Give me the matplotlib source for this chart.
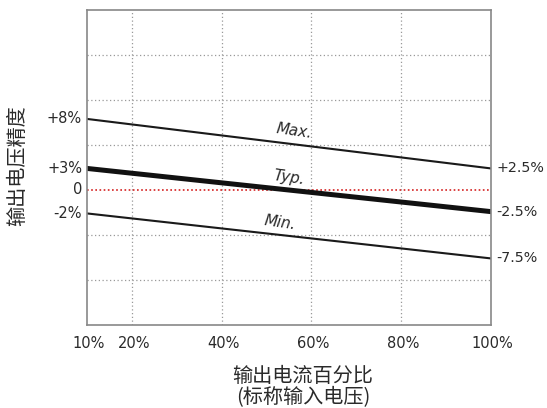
import matplotlib
matplotlib.use("Agg")
import matplotlib.pyplot as plt

# load percentage (x) and output voltage accuracy (y, %)
x_ends = [10, 100]
max_vals = [7.9, 2.4]
typ_vals = [2.4, -2.4]
min_vals = [-2.6, -7.6]
x_ticks = [10, 20, 40, 60, 80, 100]
x_tick_labels = ["10%", "20%", "40%", "60%", "80%", "100%"]
left_labels = ["+8%", "+3%", "0", "-2%"]
left_vals = [7.9, 2.4, 0.1, -2.6]
right_labels = ["+2.5%", "-2.5%", "-7.5%"]
right_vals = [2.4, -2.4, -7.6]
y_grid = [-10, -5, 5, 10, 15]

plt.rcParams['font.family'] = ['DejaVu Sans', 'Noto Sans CJK SC']
cjk = ['Noto Sans CJK SC', 'DejaVu Sans']
txt_col = "#2a2a2a"

fig = plt.figure(figsize=(5.47, 4.08), dpi=100)
ax = fig.add_axes([0.159, 0.2034, 0.7385, 0.772])
ax.set_xlim(10, 100)
ax.set_ylim(-15, 20)

for gx in x_ticks[1:-1]:
    ax.axvline(gx, color="#999999", lw=0.9, ls=(0, (1, 2)))
for gy in y_grid:
    ax.axhline(gy, color="#999999", lw=0.9, ls=(0, (1, 2)))
ax.axhline(0, color="#d42020", lw=1.2, ls=(0, (1, 1.5)))

ax.plot(x_ends, max_vals, color="#1a1a1a", lw=1.5)
ax.plot(x_ends, typ_vals, color="#111111", lw=3.6)
ax.plot(x_ends, min_vals, color="#1a1a1a", lw=1.5)

ax.text(51.9, 5.8, "Max.", fontsize=11, style="italic", rotation=-8, color=txt_col)
ax.text(51.2, 0.6, "Typ.", fontsize=11, style="italic", rotation=-8, color=txt_col)
ax.text(49.2, -4.4, "Min.", fontsize=11, style="italic", rotation=-8, color=txt_col)

for val, lab in zip(left_vals, left_labels):
    ax.text(8.9, val, lab, ha="right", va="center", fontsize=10.5, color=txt_col)
for val, lab in zip(right_vals, right_labels):
    ax.text(101.2, val, lab, ha="left", va="center", fontsize=10.3, color=txt_col)

ax.set_xticks([])
ax.set_yticks([])
for s in ax.spines.values():
    s.set_color("#888888")
    s.set_linewidth(1.2)

for xv, lab in zip(x_ticks, x_tick_labels):
    ax.text(xv + 0.4, -17.0, lab, ha="center", va="center", fontsize=10.5, color=txt_col)

fig.text(0.033, 0.593, "输出电压精度", rotation=90, ha="center", va="center",
         fontsize=14.5, family=cjk, color=txt_col)
fig.text(0.554, 0.076, "输出电流百分比", ha="center", va="center", fontsize=14.5,
         family=cjk, color=txt_col)
fig.text(0.554, 0.025, "(标称输入电压)", ha="center", va="center", fontsize=14.5,
         family=cjk, color=txt_col)

fig.savefig("out.png", dpi=100)
